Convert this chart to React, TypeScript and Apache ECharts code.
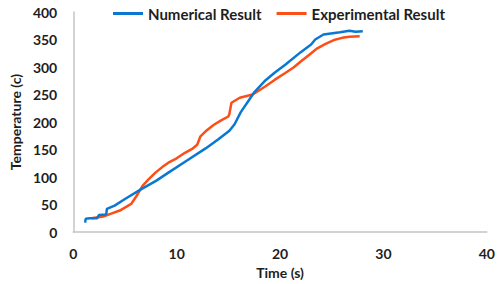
import React, { useEffect, useRef } from "react";
import * as echarts from "echarts";

const xTicks = [0, 10, 20, 30, 40];
const yTicks = [0, 50, 100, 150, 200, 250, 300, 350, 400];

const numTime = [1.15, 1.2, 1.6, 2.3, 2.5, 3.1, 3.2, 3.25, 4, 5, 6.5, 8, 9.2, 11, 12.8, 14, 15.1, 15.6, 16.2, 17, 17.5, 18.6, 19.5, 20.5, 22, 23, 23.4, 24.2, 25.8, 26.7, 27.3, 28];
const numTemp = [17, 24, 25, 25, 31, 32, 33, 42, 48, 60, 77, 93, 108, 130, 152, 168, 184, 196, 218, 240, 254, 276, 290, 304, 327, 341, 350, 359, 363, 366, 364, 365];

const expTime = [1.75, 2.9, 3.6, 4.5, 5.6, 6.1, 6.7, 7.3, 7.95, 8.6, 9.2, 10, 10.8, 11.5, 12, 12.3, 12.8, 13.6, 14.3, 15.0, 15.1, 15.3, 16.1, 17.35, 18.6, 19.5, 20.5, 21.3, 22, 22.8, 23.6, 24.4, 25.2, 26, 26.7, 27.7];
const expTemp = [25, 28, 33, 39, 51, 65, 84, 96, 108, 118, 126, 134, 144, 151, 159, 174, 183, 195, 203, 210, 215, 235, 244, 250, 265, 277, 289, 299, 310, 322, 334, 342, 349, 353, 355, 356];

const seriesNames = ["Numerical Result", "Experimental Result"];
const colors = ["#0a78d2", "#fc4f18"];

const font = "Lato, 'Open Sans', sans-serif";
const textColor = "#1e1e1e";

export default function App() {
  const ref = useRef<HTMLDivElement>(null);
  useEffect(() => {
    if (!ref.current) return;
    const chart = echarts.init(ref.current, null, { renderer: "svg" });
    const numData = numTime.map((t, i) => [t, numTemp[i]]);
    const expData = expTime.map((t, i) => [t, expTemp[i]]);
    chart.setOption({
      animation: false,
      textStyle: { fontFamily: font },
      color: colors,
      legend: {
        top: 1,
        left: 108,
        icon: "rect",
        itemWidth: 30,
        itemHeight: 3,
        itemGap: 15,
        textStyle: { fontSize: 15, fontWeight: "bold", color: textColor, fontFamily: font },
        data: seriesNames,
      },
      grid: { left: 62, right: 10, top: 12, bottom: 51 },
      xAxis: {
        type: "value",
        min: xTicks[0],
        max: xTicks[xTicks.length - 1],
        interval: 10,
        name: "Time (s)",
        nameLocation: "middle",
        nameGap: 33,
        nameTextStyle: { fontSize: 14, fontWeight: "bold", color: textColor, fontFamily: font },
        axisLine: { show: true, lineStyle: { color: "#c4c4c4", width: 1.5 } },
        axisTick: { show: false },
        splitLine: { show: false },
        axisLabel: { margin: 14, fontSize: 14, fontWeight: "bold", color: textColor, fontFamily: font },
      },
      yAxis: {
        type: "value",
        min: yTicks[0],
        max: yTicks[yTicks.length - 1],
        interval: 50,
        name: "Temperature (c)",
        nameLocation: "middle",
        nameGap: 48,
        nameTextStyle: { fontSize: 14, fontWeight: "bold", color: textColor, fontFamily: font },
        axisLine: { show: true, lineStyle: { color: "#c4c4c4", width: 1.5 } },
        axisTick: { show: false },
        splitLine: { show: false },
        axisLabel: { margin: 16, fontSize: 14, fontWeight: "bold", color: textColor, fontFamily: font },
      },
      series: [
        {
          name: seriesNames[0],
          type: "line",
          data: numData,
          showSymbol: false,
          symbol: "none",
          lineStyle: { width: 2.5, color: colors[0] },
          z: 3,
        },
        {
          name: seriesNames[1],
          type: "line",
          data: expData,
          showSymbol: false,
          symbol: "none",
          lineStyle: { width: 2.5, color: colors[1] },
          z: 2,
        },
      ],
    });
    return () => chart.dispose();
  }, []);
  return <div ref={ref} style={{ width: 498, height: 284, position: "absolute", left: 0, top: 0 }} />;
}
